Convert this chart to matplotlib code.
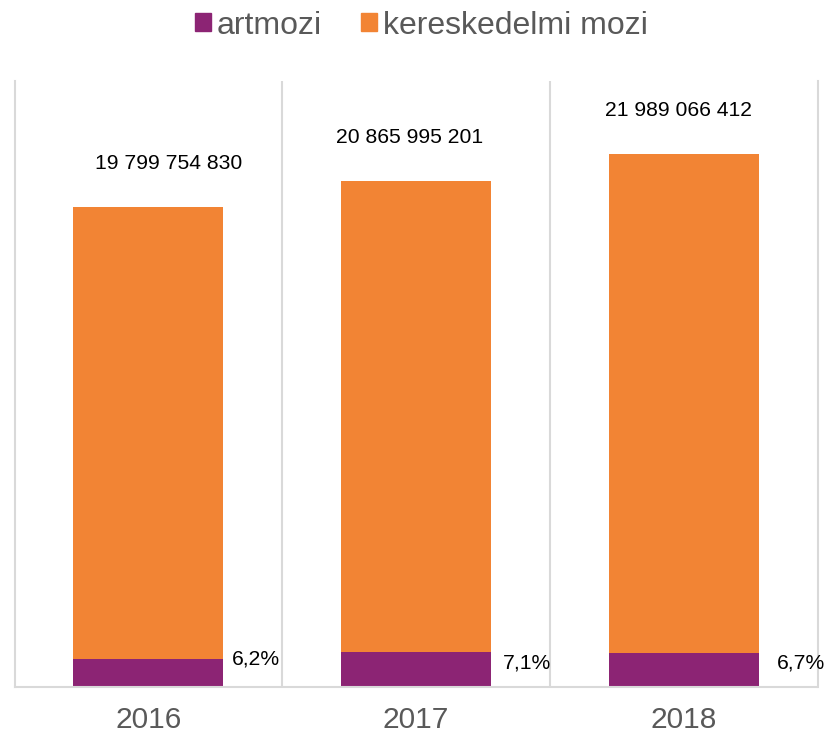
import matplotlib
matplotlib.use("Agg")
import matplotlib.pyplot as plt
from matplotlib.patches import Patch

plt.rcParams['font.family'] = ['Liberation Sans', 'DejaVu Sans']

# data
years = ['2016', '2017', '2018']
totals = [19799754830, 20865995201, 21989066412]
art = [1.16e9, 1.44e9, 1.40e9]
art_share = ['6,2%', '7,1%', '6,7%']
total_labels = ['19 799 754 830', '20 865 995 201', '21 989 066 412']
commercial = [t - a for t, a in zip(totals, art)]

# label nudges (pixels), as placed in the original
tot_dx = [20, -6, -5]
pct_dx = [9, 12, 18]
pct_dy = [0, -11, -10]

c_art = '#8C2474'
c_com = '#F28434'
grid_c = '#D9D9D9'
txt_gray = '#595959'

fig = plt.figure(figsize=(8.26, 7.35), dpi=100)
ax = fig.add_axes([14.5/826, 48/735, 803/826, 606/735])

x = list(range(len(years)))
w = 0.56
ax.bar(x, art, width=w, color=c_art, zorder=2)
ax.bar(x, commercial, width=w, bottom=art, color=c_com, zorder=2)

# separators between categories
for sep in [0.5, 1.5]:
    ax.axvline(sep, color=grid_c, lw=1.5, zorder=1)

ax.set_xlim(-0.5, 2.5)
ax.set_ylim(0, 25e9)

for s in ['left', 'right', 'bottom']:
    ax.spines[s].set_color(grid_c)
    ax.spines[s].set_linewidth(1.5)
ax.spines['top'].set_visible(False)

ax.set_yticks([])
ax.set_xticks(x)
ax.set_xticklabels(years, fontsize=21.5, color=txt_gray)
ax.tick_params(axis='x', length=0, pad=14)

px = 0.72  # points per pixel at dpi 100
for i in x:
    ax.annotate(total_labels[i], xy=(i, totals[i] + 1.8e9),
                xytext=(tot_dx[i] * px, 0), textcoords='offset points',
                ha='center', va='center', fontsize=15.2, color='black')
    ax.annotate(art_share[i], xy=(i + w/2, art[i]),
                xytext=(pct_dx[i] * px, pct_dy[i] * px),
                textcoords='offset points', ha='left', va='center',
                fontsize=15.2, color='black')

handles = [Patch(color=c_art, label='artmozi'),
           Patch(color=c_com, label='kereskedelmi mozi')]
leg = fig.legend(handles=handles, loc='center', bbox_to_anchor=(0.51, 0.965),
                 ncol=2, frameon=False, fontsize=23, handlelength=0.5,
                 handleheight=0.5, handletextpad=0.2, columnspacing=1.2)
for t in leg.get_texts():
    t.set_color(txt_gray)

fig.savefig('out.png', dpi=100)
